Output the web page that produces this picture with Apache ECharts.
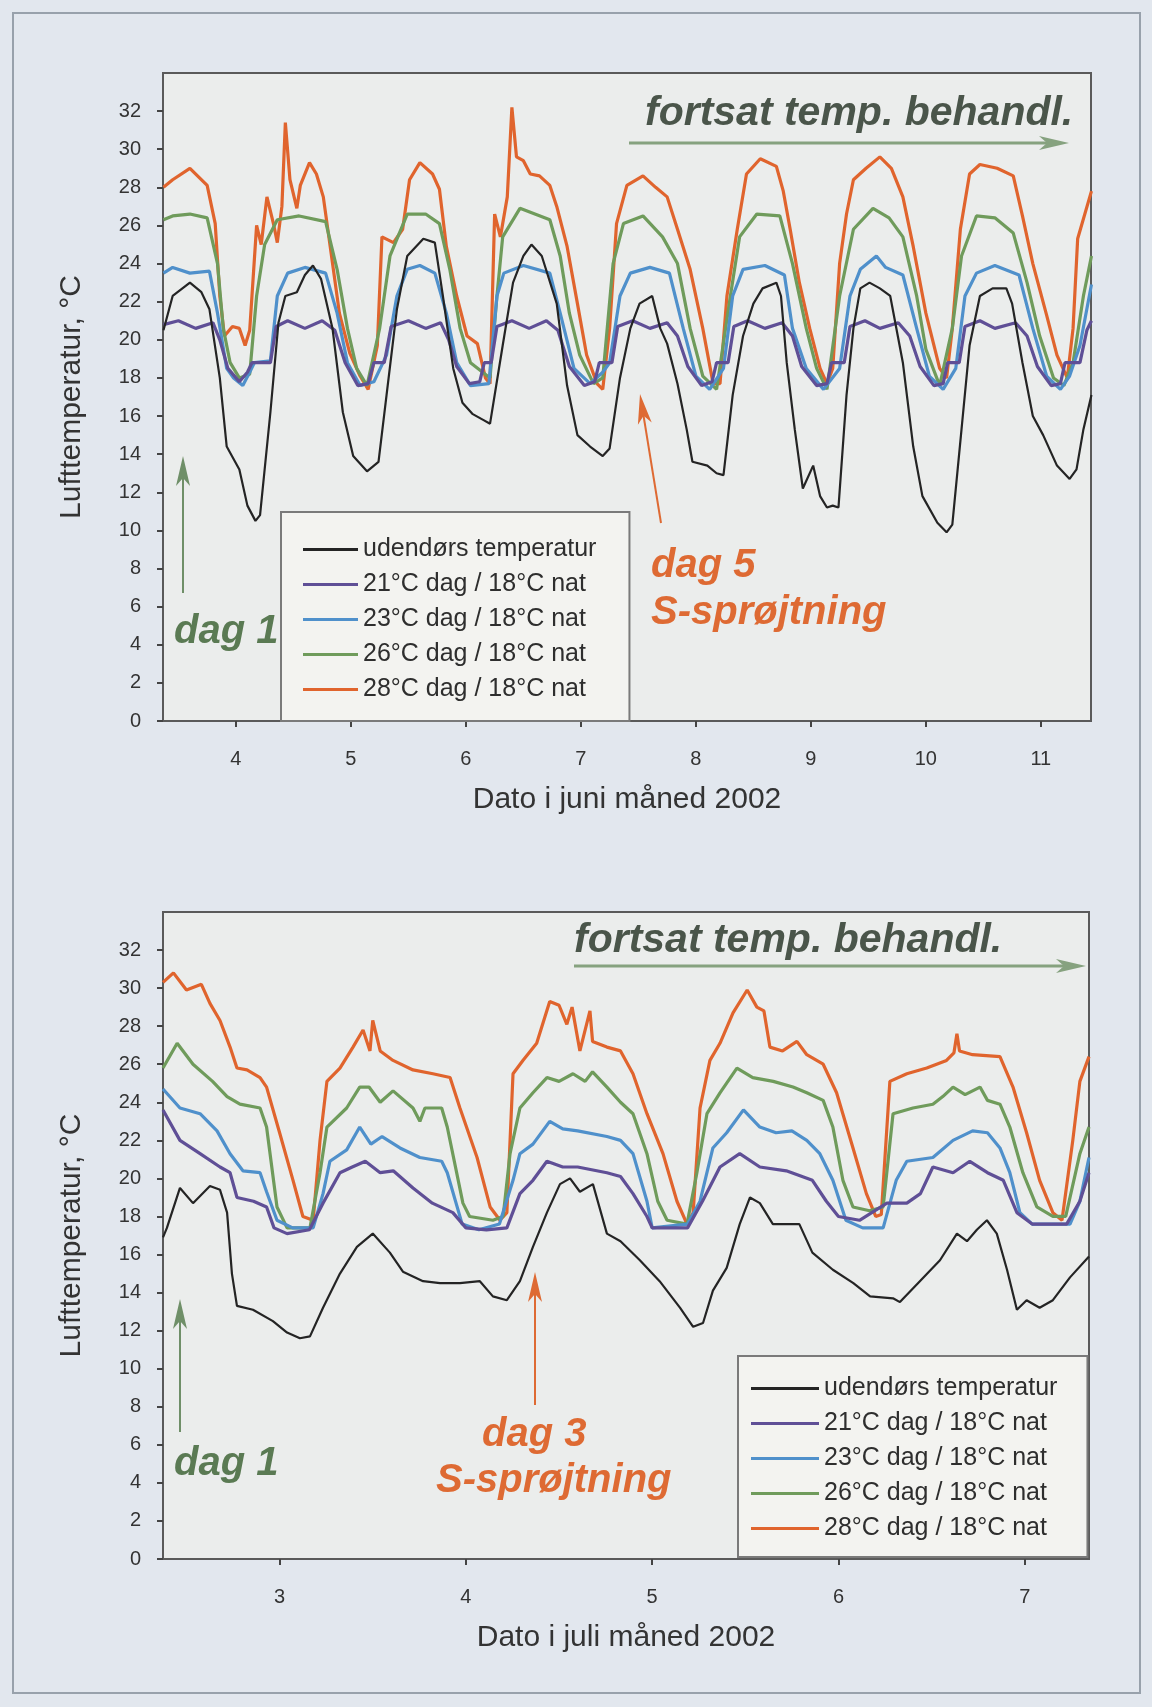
<!DOCTYPE html>
<html>
<head>
<meta charset="utf-8">
<title>Lufttemperatur juni og juli 2002</title>
<script src="https://cdn.jsdelivr.net/npm/echarts@6/dist/echarts.min.js"></script>
<style>
  html, body { margin: 0; padding: 0; background: #e2e7ee; }
  #chart { width: 1152px; height: 1707px; }
</style>
</head>
<body>
<div id="chart"></div>
<script>
// [dag, °C] - juni 2002 (øverste graf)
const juneOutdoor = [[3.37,20.5],[3.45,22.3],[3.60,23.0],[3.70,22.5],[3.77,21.6],[3.86,18.0],[3.92,14.4],[4.03,13.2],[4.10,11.3],[4.17,10.5],[4.21,10.8],[4.30,16.2],[4.37,20.9],[4.43,22.3],[4.53,22.5],[4.60,23.4],[4.67,23.9],[4.74,23.2],[4.84,20.6],[4.93,16.2],[5.02,13.9],[5.14,13.1],[5.24,13.6],[5.31,17.1],[5.40,21.6],[5.49,24.4],[5.63,25.3],[5.73,25.1],[5.80,22.3],[5.89,18.5],[5.97,16.7],[6.06,16.1],[6.15,15.8],[6.21,15.6],[6.32,19.7],[6.41,23.0],[6.50,24.4],[6.57,25.0],[6.66,24.4],[6.79,21.9],[6.88,17.6],[6.97,15.0],[7.08,14.4],[7.19,13.9],[7.25,14.3],[7.34,18.0],[7.43,20.6],[7.51,21.9],[7.62,22.3],[7.69,20.6],[7.75,19.8],[7.84,17.7],[7.92,15.3],[7.97,13.6],[8.10,13.4],[8.18,13.0],[8.24,12.9],[8.32,17.1],[8.41,20.2],[8.50,21.9],[8.58,22.7],[8.70,23.0],[8.74,22.3],[8.79,18.8],[8.86,15.3],[8.93,12.2],[9.02,13.4],[9.08,11.8],[9.14,11.2],[9.19,11.3],[9.24,11.2],[9.31,17.1],[9.37,20.6],[9.43,22.7],[9.51,23.0],[9.60,22.7],[9.69,22.3],[9.80,18.8],[9.89,14.4],[9.97,11.8],[10.10,10.4],[10.18,9.9],[10.23,10.3],[10.31,15.3],[10.38,19.7],[10.47,22.3],[10.58,22.7],[10.70,22.7],[10.75,21.9],[10.84,18.8],[10.93,16.0],[11.02,15.0],[11.14,13.4],[11.25,12.7],[11.31,13.2],[11.37,15.3],[11.44,17.1]];
const june21 = [[3.37,20.8],[3.50,21.0],[3.65,20.6],[3.80,20.9],[3.86,20.0],[3.93,18.5],[4.03,17.8],[4.10,18.3],[4.14,18.8],[4.30,18.8],[4.35,20.7],[4.45,21.0],[4.60,20.6],[4.75,21.0],[4.86,20.5],[4.95,18.8],[5.06,17.6],[5.15,17.7],[5.20,18.8],[5.29,18.8],[5.35,20.7],[5.50,21.0],[5.65,20.6],[5.78,20.9],[5.85,20.0],[5.92,18.6],[6.03,17.7],[6.12,17.8],[6.16,18.8],[6.22,18.8],[6.27,20.7],[6.40,21.0],[6.55,20.6],[6.70,21.0],[6.80,20.5],[6.90,18.6],[7.03,17.6],[7.12,17.8],[7.16,18.8],[7.27,18.8],[7.32,20.7],[7.45,21.0],[7.60,20.6],[7.75,20.9],[7.84,20.2],[7.93,18.6],[8.05,17.6],[8.14,17.8],[8.18,18.8],[8.28,18.8],[8.33,20.7],[8.45,21.0],[8.60,20.6],[8.75,20.9],[8.84,20.2],[8.92,18.6],[9.05,17.6],[9.14,17.7],[9.18,18.8],[9.29,18.8],[9.34,20.7],[9.47,21.0],[9.60,20.6],[9.76,20.9],[9.86,20.2],[9.95,18.6],[10.07,17.6],[10.15,17.7],[10.19,18.8],[10.29,18.8],[10.34,20.7],[10.47,21.0],[10.60,20.6],[10.78,20.9],[10.88,20.2],[10.97,18.6],[11.09,17.6],[11.17,17.7],[11.21,18.8],[11.34,18.8],[11.40,20.5],[11.44,21.0]];
const june23 = [[3.37,23.5],[3.45,23.8],[3.60,23.5],[3.77,23.6],[3.84,21.4],[3.92,18.5],[3.98,18.0],[4.06,17.6],[4.12,18.3],[4.16,18.8],[4.30,18.9],[4.36,22.3],[4.45,23.5],[4.60,23.8],[4.78,23.5],[4.88,21.4],[4.97,18.8],[5.08,17.6],[5.20,17.8],[5.31,19.2],[5.40,22.3],[5.49,23.7],[5.60,23.9],[5.73,23.5],[5.83,21.4],[5.92,18.8],[6.04,17.6],[6.20,17.7],[6.27,22.3],[6.33,23.5],[6.50,23.9],[6.73,23.5],[6.82,21.4],[6.94,18.5],[7.08,17.7],[7.19,18.3],[7.25,18.8],[7.34,22.3],[7.43,23.5],[7.60,23.8],[7.77,23.5],[7.89,20.6],[8.00,18.1],[8.12,17.4],[8.24,18.5],[8.32,22.3],[8.41,23.7],[8.60,23.9],[8.77,23.4],[8.84,20.6],[8.96,18.5],[9.11,17.4],[9.25,18.5],[9.34,22.3],[9.43,23.7],[9.57,24.4],[9.65,23.8],[9.80,23.4],[9.92,20.6],[10.03,18.1],[10.15,17.4],[10.26,18.5],[10.34,22.3],[10.44,23.5],[10.60,23.9],[10.81,23.4],[10.93,20.6],[11.05,18.1],[11.17,17.4],[11.25,18.1],[11.34,19.7],[11.44,22.9]];
const june26 = [[3.37,26.3],[3.45,26.5],[3.60,26.6],[3.75,26.4],[3.84,24.0],[3.89,20.6],[3.95,18.8],[4.03,18.0],[4.12,18.2],[4.18,22.3],[4.25,25.0],[4.36,26.3],[4.55,26.5],[4.78,26.2],[4.88,23.7],[4.97,20.6],[5.05,18.5],[5.14,17.6],[5.25,20.6],[5.34,24.4],[5.49,26.6],[5.65,26.6],[5.77,26.1],[5.86,23.7],[5.95,20.6],[6.04,18.8],[6.21,18.0],[6.27,22.3],[6.32,25.4],[6.47,26.9],[6.60,26.6],[6.73,26.3],[6.82,24.4],[6.90,21.4],[6.99,19.2],[7.11,17.7],[7.19,18.0],[7.28,24.0],[7.37,26.1],[7.54,26.5],[7.71,25.4],[7.84,24.0],[7.95,20.6],[8.06,18.1],[8.18,17.4],[8.30,22.3],[8.38,25.4],[8.53,26.6],[8.73,26.5],[8.84,24.0],[8.96,20.6],[9.05,18.5],[9.14,17.4],[9.25,22.3],[9.37,25.8],[9.54,26.9],[9.68,26.4],[9.80,25.4],[9.92,22.3],[10.00,19.5],[10.12,17.6],[10.23,20.6],[10.31,24.4],[10.44,26.5],[10.60,26.4],[10.76,25.6],[10.88,23.0],[10.99,20.2],[11.11,18.0],[11.20,17.6],[11.28,18.8],[11.37,22.3],[11.44,24.4]];
const june28 = [[3.37,28.0],[3.45,28.4],[3.60,29.0],[3.75,28.1],[3.82,26.1],[3.86,22.3],[3.90,20.2],[3.97,20.7],[4.03,20.6],[4.08,19.7],[4.12,20.5],[4.18,26.0],[4.22,25.0],[4.27,27.5],[4.33,26.0],[4.36,25.1],[4.40,27.0],[4.43,31.4],[4.47,28.4],[4.53,26.9],[4.56,28.1],[4.64,29.3],[4.70,28.7],[4.76,27.5],[4.82,24.9],[4.90,21.4],[4.99,19.3],[5.08,18.1],[5.15,17.4],[5.23,19.7],[5.27,25.4],[5.37,25.1],[5.45,25.8],[5.51,28.4],[5.60,29.3],[5.71,28.7],[5.77,27.9],[5.83,24.9],[5.92,22.3],[6.01,20.2],[6.10,19.8],[6.17,18.0],[6.21,17.7],[6.25,26.6],[6.30,25.4],[6.36,27.5],[6.40,32.2],[6.44,29.6],[6.50,29.4],[6.56,28.7],[6.64,28.6],[6.73,28.1],[6.79,27.0],[6.88,24.9],[6.97,21.9],[7.05,19.2],[7.14,17.7],[7.19,17.4],[7.25,20.6],[7.31,26.1],[7.40,28.1],[7.54,28.6],[7.65,28.0],[7.75,27.5],[7.84,25.8],[7.95,23.7],[8.06,20.6],[8.15,17.7],[8.21,17.7],[8.27,22.3],[8.36,25.8],[8.44,28.7],[8.56,29.5],[8.70,29.1],[8.76,27.8],[8.82,25.8],[8.90,23.0],[8.99,20.6],[9.08,18.5],[9.14,17.7],[9.19,18.5],[9.25,24.0],[9.31,26.6],[9.37,28.4],[9.48,29.0],[9.60,29.6],[9.70,29.0],[9.80,27.5],[9.89,24.9],[10.00,21.4],[10.12,18.5],[10.18,18.0],[10.23,20.6],[10.30,25.8],[10.38,28.7],[10.47,29.2],[10.62,29.0],[10.76,28.6],[10.84,26.5],[10.93,24.0],[11.05,21.3],[11.14,19.2],[11.23,18.0],[11.28,20.6],[11.32,25.3],[11.44,27.8]];

// juli 2002 (nederste graf)
const julyOutdoor = [[2.374,16.9],[2.395,17.4],[2.465,19.5],[2.535,18.7],[2.626,19.6],[2.68,19.4],[2.718,18.2],[2.744,15.0],[2.771,13.3],[2.857,13.1],[2.964,12.5],[3.04,11.9],[3.109,11.6],[3.163,11.7],[3.233,13.2],[3.324,15.0],[3.415,16.4],[3.50,17.1],[3.592,16.1],[3.662,15.1],[3.77,14.6],[3.861,14.5],[3.968,14.5],[4.075,14.6],[4.145,13.8],[4.22,13.6],[4.29,14.6],[4.36,16.4],[4.435,18.2],[4.505,19.7],[4.559,20.0],[4.612,19.3],[4.682,19.7],[4.757,17.1],[4.83,16.7],[4.934,15.7],[5.04,14.6],[5.15,13.2],[5.22,12.2],[5.273,12.4],[5.326,14.1],[5.40,15.3],[5.47,17.6],[5.525,19.0],[5.578,18.7],[5.648,17.6],[5.79,17.6],[5.86,16.1],[5.97,15.2],[6.08,14.5],[6.17,13.8],[6.293,13.7],[6.33,13.5],[6.437,14.6],[6.545,15.7],[6.636,17.1],[6.69,16.7],[6.743,17.3],[6.797,17.8],[6.85,17.1],[6.905,15.2],[6.958,13.1],[7.01,13.6],[7.08,13.2],[7.151,13.6],[7.243,14.8],[7.345,15.9]];
const july21 = [[2.374,23.6],[2.465,22.0],[2.573,21.3],[2.68,20.6],[2.734,20.3],[2.771,19.0],[2.86,18.8],[2.93,18.5],[2.97,17.4],[3.04,17.1],[3.16,17.3],[3.233,18.7],[3.324,20.3],[3.39,20.6],[3.46,20.9],[3.54,20.3],[3.61,20.4],[3.716,19.5],[3.82,18.7],[3.93,18.2],[4.00,17.4],[4.11,17.3],[4.22,17.4],[4.29,19.2],[4.36,19.9],[4.435,20.9],[4.52,20.6],[4.60,20.6],[4.757,20.3],[4.83,20.1],[4.897,19.2],[4.972,18.0],[5.00,17.4],[5.19,17.4],[5.27,18.8],[5.364,20.6],[5.47,21.3],[5.578,20.6],[5.72,20.4],[5.86,19.9],[5.935,18.8],[6.00,18.0],[6.113,17.8],[6.26,18.7],[6.367,18.7],[6.44,19.2],[6.507,20.6],[6.615,20.3],[6.705,20.9],[6.80,20.3],[6.885,19.9],[6.958,18.2],[7.04,17.6],[7.225,17.6],[7.296,18.8],[7.345,20.3]];
const july23 = [[2.374,24.7],[2.465,23.7],[2.573,23.4],[2.664,22.5],[2.734,21.3],[2.803,20.4],[2.895,20.3],[2.93,19.3],[2.986,17.8],[3.07,17.4],[3.18,17.4],[3.233,19.2],[3.27,20.9],[3.36,21.5],[3.43,22.7],[3.49,21.8],[3.55,22.2],[3.646,21.6],[3.753,21.1],[3.87,20.9],[3.90,20.3],[3.98,17.6],[4.07,17.3],[4.18,17.6],[4.253,19.9],[4.29,21.3],[4.36,21.8],[4.45,23.0],[4.52,22.6],[4.60,22.5],[4.757,22.2],[4.83,22.0],[4.897,21.3],[4.972,18.8],[5.00,17.4],[5.19,17.6],[5.257,18.8],[5.326,21.6],[5.40,22.4],[5.49,23.6],[5.578,22.7],[5.665,22.4],[5.75,22.5],[5.83,22.0],[5.90,21.3],[5.97,19.9],[6.04,17.8],[6.13,17.4],[6.24,17.4],[6.31,19.9],[6.367,20.9],[6.507,21.1],[6.615,22.0],[6.72,22.5],[6.80,22.4],[6.867,21.6],[6.92,20.3],[6.974,18.2],[7.04,17.6],[7.243,17.6],[7.296,18.8],[7.345,21.1]];
const july26 = [[2.374,25.8],[2.45,27.1],[2.535,26.0],[2.64,25.1],[2.718,24.3],[2.787,23.9],[2.895,23.7],[2.93,22.7],[2.986,18.5],[3.04,17.4],[3.163,17.4],[3.217,20.3],[3.254,22.7],[3.36,23.7],[3.43,24.8],[3.48,24.8],[3.54,24.0],[3.609,24.6],[3.716,23.7],[3.753,23.0],[3.78,23.7],[3.87,23.7],[3.90,22.7],[3.984,18.7],[4.02,18.0],[4.145,17.8],[4.20,18.0],[4.237,21.3],[4.29,23.7],[4.36,24.5],[4.435,25.3],[4.50,25.1],[4.575,25.5],[4.64,25.1],[4.68,25.6],[4.757,24.8],[4.83,24.0],[4.897,23.4],[4.972,21.3],[5.03,18.8],[5.08,17.8],[5.187,17.6],[5.24,20.3],[5.294,23.4],[5.364,24.5],[5.455,25.8],[5.54,25.3],[5.65,25.1],[5.756,24.8],[5.83,24.5],[5.918,24.1],[5.97,22.7],[6.024,19.9],[6.078,18.5],[6.167,18.3],[6.24,18.5],[6.293,23.4],[6.40,23.7],[6.507,23.9],[6.56,24.3],[6.615,24.8],[6.68,24.4],[6.76,24.8],[6.80,24.1],[6.867,23.9],[6.92,22.7],[6.99,20.3],[7.065,18.5],[7.151,18.0],[7.22,18.0],[7.296,21.3],[7.345,22.7]];
const july28 = [[2.374,30.3],[2.43,30.8],[2.50,29.9],[2.58,30.2],[2.626,29.2],[2.68,28.3],[2.734,26.9],[2.771,25.8],[2.825,25.7],[2.895,25.3],[2.93,24.8],[3.00,22.4],[3.072,19.9],[3.125,18.0],[3.18,17.8],[3.217,22.0],[3.254,25.1],[3.324,25.8],[3.394,26.9],[3.448,27.8],[3.485,26.7],[3.50,28.3],[3.54,26.7],[3.609,26.2],[3.716,25.7],[3.823,25.5],[3.915,25.3],[3.968,23.7],[4.06,21.1],[4.13,18.5],[4.183,17.8],[4.22,18.2],[4.253,25.5],[4.306,26.2],[4.38,27.1],[4.45,29.3],[4.50,29.1],[4.542,28.1],[4.57,29.0],[4.612,26.7],[4.666,28.8],[4.68,27.2],[4.757,26.9],[4.83,26.7],[4.897,25.5],[4.972,23.4],[5.058,21.3],[5.133,18.8],[5.187,17.6],[5.22,18.2],[5.257,23.7],[5.31,26.2],[5.364,27.1],[5.434,28.7],[5.51,29.9],[5.562,29.0],[5.60,28.8],[5.632,26.9],[5.70,26.7],[5.777,27.2],[5.83,26.5],[5.918,26.0],[5.99,24.5],[6.078,21.6],[6.15,19.2],[6.20,18.0],[6.23,18.1],[6.276,25.1],[6.367,25.5],[6.474,25.8],[6.58,26.2],[6.62,26.6],[6.636,27.6],[6.65,26.7],[6.72,26.5],[6.867,26.4],[6.937,24.8],[7.01,22.4],[7.08,19.9],[7.151,18.2],[7.20,17.8],[7.258,22.0],[7.296,25.1],[7.345,26.4]];

const seriesNames = ['udendørs temperatur', '21°C dag / 18°C nat', '23°C dag / 18°C nat', '26°C dag / 18°C nat', '28°C dag / 18°C nat'];
const seriesColors = ['#242424', '#5f4f96', '#4f90cb', '#6f9b5b', '#e0642d'];
const juneDays = [4, 5, 6, 7, 8, 9, 10, 11];
const julyDays = [3, 4, 5, 6, 7];
const tempTicks = [0, 2, 4, 6, 8, 10, 12, 14, 16, 18, 20, 22, 24, 26, 28, 30, 32];

const chart = echarts.init(document.getElementById('chart'));
const FONT = 'Liberation Sans, Arial, sans-serif';

function lineSeries(i, gridIdx, data) {
    return {
        name: seriesNames[i],
        type: 'line',
        xAxisIndex: gridIdx,
        yAxisIndex: gridIdx,
        data: data,
        symbol: 'none',
        color: seriesColors[i],
        lineStyle: { width: i === 0 ? 2.2 : 3.2, color: seriesColors[i] },
        z: i === 0 ? 3 : 2
    };
}

function xAxis(gridIdx, min, max, ticks, name) {
    return {
        type: 'value', gridIndex: gridIdx, min: min, max: max,
        name: name, nameLocation: 'middle', nameGap: 64,
        nameTextStyle: { fontFamily: FONT, fontSize: 30, color: '#333' },
        axisLine: { show: false },
        axisTick: { customValues: ticks, length: 6, lineStyle: { color: '#444', width: 2 } },
        axisLabel: { customValues: ticks, margin: 28, fontFamily: FONT, fontSize: 20, color: '#333' },
        splitLine: { show: false }
    };
}

function yAxis(gridIdx) {
    return {
        type: 'value', gridIndex: gridIdx, min: 0, max: 34,
        name: 'Lufttemperatur, °C', nameLocation: 'middle', nameGap: 76, nameRotate: 90,
        nameTextStyle: { fontFamily: FONT, fontSize: 30, color: '#333' },
        axisLine: { show: false },
        axisTick: { customValues: tempTicks, length: 6, lineStyle: { color: '#444', width: 2 } },
        axisLabel: { customValues: tempTicks, margin: 22, fontFamily: FONT, fontSize: 20, color: '#333' },
        splitLine: { show: false }
    };
}

function arrow(x1, y1, x2, y2, color, w) {
    // pil fra (x1,y1) til spids (x2,y2)
    const len = Math.hypot(x2 - x1, y2 - y1);
    const dx = (x2 - x1) / len, dy = (y2 - y1) / len;
    const px = -dy, py = dx;
    const back = 30, half = 7;
    return [
        { type: 'line', shape: { x1: x1, y1: y1, x2: x2 - dx * 18, y2: y2 - dy * 18 }, style: { stroke: color, lineWidth: w }, z: 10 },
        { type: 'polygon', shape: { points: [
            [x2, y2],
            [x2 - dx * back + px * half, y2 - dy * back + py * half],
            [x2 - dx * (back - 8), y2 - dy * (back - 8)],
            [x2 - dx * back - px * half, y2 - dy * back - py * half]
        ] }, style: { fill: color }, z: 10 }
    ];
}

function label(x, y, text, color, size) {
    return { type: 'text', x: x, y: y, z: 10, style: {
        text: text, fill: color, font: 'italic bold ' + size + 'px ' + FONT, verticalAlign: 'middle'
    } };
}

const green = '#6f8f68', greenText = '#5a7a53', orange = '#de6a33', grey = '#4a554a';

const graphics = [
    { type: 'rect', shape: { x: 13, y: 13, width: 1127, height: 1680 }, style: { fill: 'none', stroke: '#98a1ab', lineWidth: 2 }, z: -1 },
    label(645, 114, 'fortsat temp. behandl.', grey, 41),
    ...arrow(629, 143, 1069, 143, '#86a27f', 3),
    label(174, 632, 'dag 1', greenText, 40),
    ...arrow(183, 593, 183, 456, green, 2),
    label(651, 566, 'dag 5', orange, 40),
    label(651, 613, 'S-sprøjtning', orange, 40),
    ...arrow(661, 523, 640, 394, orange, 2),
    label(574, 941, 'fortsat temp. behandl.', grey, 41),
    ...arrow(574, 966, 1086, 966, '#86a27f', 3),
    label(174, 1464, 'dag 1', greenText, 40),
    ...arrow(180, 1432, 180, 1299, green, 2),
    label(482, 1435, 'dag 3', orange, 40),
    label(436, 1481, 'S-sprøjtning', orange, 40),
    ...arrow(535, 1405, 535, 1272, orange, 2)
];

const legendBase = {
    orient: 'vertical', selectedMode: false, data: seriesNames,
    icon: 'rect', itemHeight: 3, itemGap: 10,
    backgroundColor: '#f3f3f0', borderColor: '#7a7a7a', borderWidth: 2,
    textStyle: { fontFamily: FONT, fontSize: 25, color: '#2e2e2e', lineHeight: 25 }
};

const option = {
    animation: false,
    backgroundColor: '#e2e7ee',
    grid: [
        { left: 163, top: 73, width: 928, height: 648, show: true, backgroundColor: '#ebedec', borderColor: '#5a5a5a', borderWidth: 2 },
        { left: 163, top: 912, width: 926, height: 647, show: true, backgroundColor: '#ebedec', borderColor: '#5a5a5a', borderWidth: 2 }
    ],
    xAxis: [
        xAxis(0, 3.366, 11.436, juneDays, 'Dato i juni måned 2002'),
        xAxis(1, 2.374, 7.345, julyDays, 'Dato i juli måned 2002')
    ],
    yAxis: [yAxis(0), yAxis(1)],
    legend: [
        Object.assign({}, legendBase, { left: 281, top: 512, itemWidth: 55, padding: [25, 33, 19, 22] }),
        Object.assign({}, legendBase, { left: 738, top: 1356, itemWidth: 68, padding: [20, 30, 16, 13] })
    ],
    series: [
        lineSeries(4, 0, june28), lineSeries(3, 0, june26), lineSeries(2, 0, june23), lineSeries(1, 0, june21), lineSeries(0, 0, juneOutdoor),
        lineSeries(4, 1, july28), lineSeries(3, 1, july26), lineSeries(2, 1, july23), lineSeries(1, 1, july21), lineSeries(0, 1, julyOutdoor)
    ],
    graphic: graphics
};

chart.setOption(option);
</script>
</body>
</html>
